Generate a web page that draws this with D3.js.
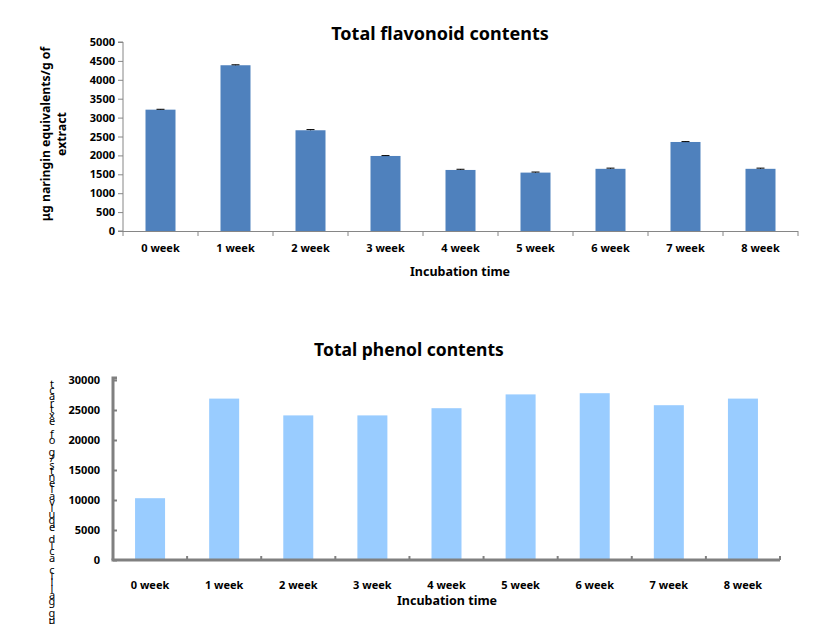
<!DOCTYPE html>
<html><head><meta charset="utf-8">
<script src="https://cdn.jsdelivr.net/npm/d3@7"></script>
<style>
body{margin:0;background:#fff;}
text{font-family:"Noto Sans","DejaVu Sans",sans-serif;}
</style></head>
<body><svg id="c" width="814" height="624"></svg>
<script>
const categories = ["0 week","1 week","2 week","3 week","4 week","5 week","6 week","7 week","8 week"];
const flavonoid = [3210, 4385, 2665, 1985, 1615, 1545, 1645, 2355, 1645];
const flavonoidErr = [10, 12, 18, 10, 18, 15, 18, 10, 18];
const phenol = [10300, 26900, 24100, 24100, 25300, 27600, 27800, 25800, 26900];
const flavTicks = [0,500,1000,1500,2000,2500,3000,3500,4000,4500,5000];
const phenolTicks = [0,5000,10000,15000,20000,25000,30000];
const phenolYLabel = "µg gallic acid equivalents/g of extract";

const svg = d3.select("#c");

// ---------- Top chart ----------
{
  const L=123, R=798, T=42, B=231;
  const xb = d3.scaleBand().domain(categories).range([L,R]);
  const y = d3.scaleLinear().domain([0,5000]).range([B,T]);
  const g = svg.append("g");
  g.append("text").attr("x",440).attr("y",40).attr("text-anchor","middle")
    .attr("font-size",18).attr("font-weight","bold").text("Total flavonoid contents");
  g.selectAll("rect.b").data(flavonoid).join("rect")
    .attr("x",(d,i)=>xb(categories[i])+xb.bandwidth()/2-15).attr("width",30)
    .attr("y",d=>y(d)).attr("height",d=>B-y(d)).attr("fill","#4F81BD");
  flavonoid.forEach((d,i)=>{
    const cx = xb(categories[i])+xb.bandwidth()/2;
    g.append("line").attr("x1",cx).attr("x2",cx).attr("y1",y(d+flavonoidErr[i])).attr("y2",y(d)).attr("stroke","#000");
    g.append("line").attr("x1",cx-4).attr("x2",cx+4).attr("y1",y(d+flavonoidErr[i])).attr("y2",y(d+flavonoidErr[i])).attr("stroke","#000");
  });
  const ya = d3.axisLeft(y).tickValues(flavTicks).tickSize(5).tickPadding(3).tickFormat(d3.format("d"));
  const yg = g.append("g").attr("transform",`translate(${L},0)`).call(ya);
  yg.select(".domain").attr("stroke","#868686").attr("d",`M-5,${T}H0V${B}H-5`);
  yg.selectAll(".tick line").attr("stroke","#868686");
  yg.selectAll(".tick text").attr("font-size",11).attr("font-weight","bold").attr("fill","#000")
    .attr("font-family","'Noto Sans',sans-serif");
  g.append("line").attr("x1",L).attr("x2",R).attr("y1",B+0.5).attr("y2",B+0.5).attr("stroke","#868686");
  categories.concat(["end"]).forEach((c,i)=>{
    const xx = L + i*xb.bandwidth();
    g.append("line").attr("x1",xx).attr("x2",xx).attr("y1",B).attr("y2",B+5).attr("stroke","#868686");
  });
  g.selectAll("text.xl").data(categories).join("text")
    .attr("x",d=>xb(d)+xb.bandwidth()/2).attr("y",252).attr("text-anchor","middle")
    .attr("font-size",11).attr("font-weight","bold").text(d=>d);
  g.append("text").attr("x",460).attr("y",276).attr("text-anchor","middle")
    .attr("font-size",12.5).attr("font-weight","bold").text("Incubation time");
  const yl = g.append("text").attr("transform","translate(50,134) rotate(-90)")
    .attr("text-anchor","middle").attr("font-size",12.3).attr("font-weight","bold");
  yl.append("tspan").attr("x",0).attr("dy",0).text("μg naringin equivalents/g of");
  yl.append("tspan").attr("x",0).attr("dy",16).text("extract");
}

// ---------- Bottom chart ----------
{
  const L=113, R=780, T=380, B=560;
  const xb = d3.scaleBand().domain(categories).range([L,R]);
  const y = d3.scaleLinear().domain([0,30000]).range([B,T]);
  const g = svg.append("g");
  g.append("text").attr("x",409).attr("y",356).attr("text-anchor","middle")
    .attr("font-size",17.5).attr("font-weight","bold").text("Total phenol contents");
  g.selectAll("rect.b").data(phenol).join("rect")
    .attr("x",(d,i)=>xb(categories[i])+xb.bandwidth()/2-15).attr("width",30)
    .attr("y",d=>y(d)).attr("height",d=>B-y(d)).attr("fill","#99CCFF");
  const ya = d3.axisRight(y).tickValues(phenolTicks).tickSize(4).tickFormat("");
  const yg = g.append("g").attr("transform",`translate(${L},0)`).call(ya);
  yg.select(".domain").attr("stroke","#808080").attr("stroke-width",3).attr("d",`M4,${T-2}H0V${B}`);
  yg.selectAll(".tick line").attr("stroke","#808080").attr("stroke-width",2);
  g.selectAll("text.yt").data(phenolTicks).join("text")
    .attr("x",100).attr("y",d=>y(d)+4).attr("text-anchor","end")
    .attr("font-size",11).attr("font-weight","bold").text(d=>d);
  g.append("line").attr("x1",L-1.5).attr("x2",R).attr("y1",B).attr("y2",B).attr("stroke","#808080").attr("stroke-width",3);
  categories.concat(["end"]).forEach((c,i)=>{
    if(i===0) return;
    const xx = L + i*xb.bandwidth();
    g.append("line").attr("x1",xx).attr("x2",xx).attr("y1",B).attr("y2",B-4).attr("stroke","#808080").attr("stroke-width",2);
  });
  g.selectAll("text.xl").data(categories).join("text")
    .attr("x",d=>xb(d)+xb.bandwidth()/2).attr("y",589).attr("text-anchor","middle")
    .attr("font-size",11).attr("font-weight","bold").text(d=>d);
  g.append("text").attr("x",447).attr("y",605).attr("text-anchor","middle")
    .attr("font-size",12.5).attr("font-weight","bold").text("Incubation time");
  // garbled y label: characters stacked upright, read bottom-to-top (one text element)
  g.append("text").attr("x",52).attr("y",376)
    .style("writing-mode","vertical-rl").style("text-orientation","upright")
    .style("letter-spacing","-8.8px")
    .attr("font-size",11).attr("fill","#000")
    .text(phenolYLabel.split("").reverse().join(""));
}
</script></body></html>
